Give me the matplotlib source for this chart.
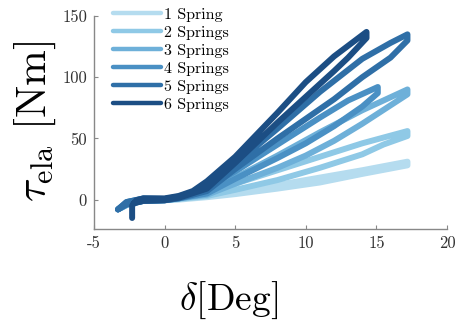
import matplotlib
matplotlib.use("Agg")
import matplotlib.pyplot as plt

plt.rcParams['font.family'] = 'serif'
plt.rcParams['font.serif'] = ['cmr10', 'DejaVu Serif']
plt.rcParams['mathtext.fontset'] = 'cm'
plt.rcParams['axes.unicode_minus'] = False
plt.rcParams['axes.formatter.use_mathtext'] = False

labels = ["1 Spring", "2 Springs", "3 Springs", "4 Springs", "5 Springs", "6 Springs"]
colors = ["#b5dcef", "#8fc9e6", "#6eb0d9", "#4a90c4", "#2f6fa7", "#1c4e84"]

# loading branches (delta [deg], torque [Nm])
load_x = [
    [-3.0, -2.5, -1.5, 0, 1, 2, 3, 5, 8, 11, 14, 17.2],
    [-3.1, -2.6, -1.5, 0, 1, 2, 3, 5, 8, 11, 14, 17.2],
    [-3.2, -2.6, -1.5, 0, 1, 2, 3, 5, 8, 11, 14, 17.2],
    [-3.3, -2.7, -1.5, 0, 1, 2, 3, 5, 8, 11, 13, 15.1],
    [-3.3, -2.7, -1.5, 0, 1, 2, 3, 5, 8, 11, 14, 16, 17.2],
    [-2.3, -2.3, -2.0, -1.5, 0, 1, 2, 3, 5, 8, 10, 12, 14.3],
]
load_y = [
    [-6, -2, 0.5, 0.5, 1, 2, 3.5, 7, 12, 18, 24, 31],
    [-7, -2, 0.5, 0.5, 1.5, 3, 6, 13, 24, 35, 46, 56],
    [-7, -2, 0.5, 0.5, 2, 4, 8, 18, 36, 55, 73, 90],
    [-8, -2, 0.8, 0.5, 2, 5, 10, 23, 45, 67, 81, 92],
    [-8, -2, 1, 0.5, 2.5, 6, 12, 29, 58, 88, 115, 128, 135],
    [-15, -5, -0.5, 1, 1, 3, 7, 15, 35, 71, 96, 117, 137],
]

# unloading branches
unload_x = [
    [17.2, 14, 11, 8, 5, 3, 1, 0, -1.5, -2.5, -3.0],
    [17.2, 15.5, 14, 11, 8, 5, 3, 1, 0, -1.5, -2.6, -3.1],
    [17.2, 16, 14, 12, 10, 8, 5, 3, 1, 0, -1.5, -2.6, -3.2],
    [15.1, 14, 12, 10, 8, 5, 3, 1, 0, -1.5, -2.7, -3.3],
    [17.2, 16, 14, 12, 10, 8, 5, 3, 1, 0, -1.5, -2.7, -3.3],
    [14.3, 13, 12, 10, 8, 5, 3, 1, 0, -1.5, -2.2],
]
unload_y = [
    [28, 21, 14, 9, 4.5, 2, 0, -0.5, -1, -3, -6],
    [52, 45, 37, 26, 16, 8, 3, 0.5, -0.5, -1, -4, -7],
    [86, 77, 62, 48, 36, 26, 13, 4, 1, -0.5, -1, -4, -7],
    [87, 76, 60, 46, 34, 17, 5, 1, -0.5, -1, -4, -8],
    [130, 116, 100, 82, 66, 50, 25, 7, 1, -0.5, -1, -4, -8],
    [132, 116, 105, 84, 63, 30, 9, 1.5, -0.5, -1, -3],
]

x_ticks = [-5, 0, 5, 10, 15, 20]
y_ticks = [0, 50, 100, 150]

fig = plt.figure(figsize=(4.57, 3.21), dpi=100)
ax = fig.add_axes([0.2057, 0.2866, 0.7724, 0.6636])

for i in range(len(labels)):
    xs = load_x[i] + unload_x[i]
    ys = load_y[i] + unload_y[i]
    ax.plot(xs, ys, color=colors[i], lw=4.3, label=labels[i],
            solid_joinstyle='round', solid_capstyle='round')

ax.set_xlim(-5, 20)
ax.set_ylim(-24, 150)
ax.set_xticks(x_ticks)
ax.set_xticklabels([str(t) for t in x_ticks])
ax.set_yticks(y_ticks)
ax.set_yticklabels([str(t) for t in y_ticks])

for pos in ['right', 'top']:
    ax.spines[pos].set_visible(False)
for pos in ['left', 'bottom']:
    ax.spines[pos].set_color('#888888')
    ax.spines[pos].set_linewidth(1.0)
ax.tick_params(direction='in', length=3, color='#888888', labelsize=12,
               labelcolor='#333333', pad=5)

leg = ax.legend(loc='upper left', bbox_to_anchor=(0.035, 1.07), frameon=False,
                fontsize=11.5, handlelength=3.0, handletextpad=0.2,
                labelspacing=0.24, borderaxespad=0)
for line in leg.get_lines():
    line.set_linewidth(3.2)

fig.text(35 / 457, 1 - 121 / 321, r'$\tau_{\rm ela}$ [Nm]', rotation=90,
         ha='center', va='center', fontsize=31)
fig.text(229 / 457, 1 - 300 / 321, r'$\delta$[Deg]', ha='center', va='center',
         fontsize=27)

fig.savefig("out.png", dpi=100)
